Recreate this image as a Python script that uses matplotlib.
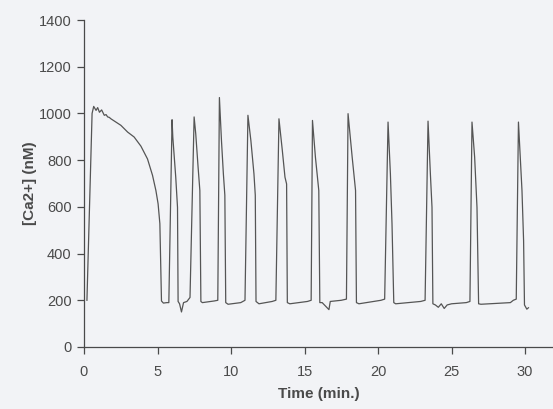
import matplotlib
matplotlib.use("Agg")
import matplotlib.pyplot as plt

# time (min) and [Ca2+] (nM)
time_min = [
    0.20, 0.55, 0.66, 0.82, 0.93, 1.05, 1.20, 1.38, 1.50, 1.61, 1.72, 1.83,
    2.17, 2.51, 2.97, 3.41, 3.87, 4.32, 4.66, 4.89, 5.04, 5.16, 5.27,
    5.40, 5.63, 5.77, 5.99,
    6.04, 6.24, 6.36, 6.40,
    6.50, 6.63, 6.77, 7.00, 7.21, 7.49,
    7.60, 7.76, 7.88, 7.95,
    8.05, 8.85, 9.10, 9.21,
    9.35, 9.48, 9.58, 9.64,
    9.80, 10.66, 10.95, 11.15,
    11.35, 11.56, 11.65, 11.70,
    11.90, 12.80, 13.05, 13.26,
    13.49, 13.67, 13.78, 13.83,
    14.00, 15.20, 15.45, 15.54,
    15.74, 15.97, 16.04,
    16.20, 16.66, 16.75, 17.50, 17.85, 17.96,
    18.24, 18.47, 18.53,
    18.70, 20.20, 20.45, 20.68,
    20.84, 20.95, 21.07,
    21.20, 22.90, 23.20, 23.40,
    23.56, 23.67, 23.73,
    23.90, 24.10, 24.30, 24.50, 24.70, 25.00, 26.00, 26.25, 26.39,
    26.57, 26.73, 26.84,
    27.00, 29.00, 29.20, 29.40, 29.55,
    29.79, 29.90, 29.96, 30.12, 30.23,
]
ca_nM = [
    200, 1000, 1030, 1013, 1025, 1005, 1015, 992, 995, 985, 983, 977,
    963, 949, 920, 899, 860, 805, 735, 670, 613, 528, 197,
    188, 190, 190, 973,
    899, 727, 598, 195,
    185, 150, 190, 195, 212, 985,
    913, 770, 670, 195,
    190, 197, 200, 1068,
    884, 741, 650, 190,
    183, 190, 200, 992,
    884, 741, 650, 195,
    185, 195, 200, 977,
    841, 727, 698, 190,
    185, 195, 200, 970,
    813, 670, 190,
    190, 160, 195, 200, 205, 999,
    813, 670, 190,
    185, 200, 205, 963,
    741, 527, 190,
    185, 195, 200, 967,
    741, 598, 185,
    180, 170, 185, 165, 180, 185, 190, 195, 963,
    813, 598, 185,
    183, 190, 200, 205, 963,
    670, 455, 180, 162, 168,
]

yticks = [0, 200, 400, 600, 800, 1000, 1200, 1400]
xticks = [0, 5, 10, 15, 20, 25, 30]

plt.rcParams["font.family"] = ["Liberation Sans", "DejaVu Sans"]
bg = "#f2f3f6"
ink = "#4a4a4a"

fig = plt.figure(figsize=(5.53, 4.09), dpi=100, facecolor=bg)
ax = fig.add_axes([84 / 553, 62 / 409, 469 / 553, 327 / 409], facecolor=bg)

ax.plot(time_min, ca_nM, color="#555555", lw=0.9)

ax.set_xlim(0, 31.9)
ax.set_ylim(0, 1400)
ax.set_xticks(xticks)
ax.set_yticks(yticks)
for side in ("top", "right"):
    ax.spines[side].set_visible(False)
for side in ("left", "bottom"):
    ax.spines[side].set_color(ink)
    ax.spines[side].set_linewidth(0.9)
ax.tick_params(colors=ink, labelsize=10.5, length=5, width=0.9)
ax.tick_params(axis="y", pad=4)
ax.tick_params(axis="x", pad=8)

ax.set_xlabel("Time (min.)", fontsize=11, fontweight="bold", color=ink, labelpad=6)
ax.set_ylabel("[Ca2+] (nM)", fontsize=11, fontweight="bold", color=ink, labelpad=1)

fig.savefig("out.png", dpi=100, facecolor=bg)
